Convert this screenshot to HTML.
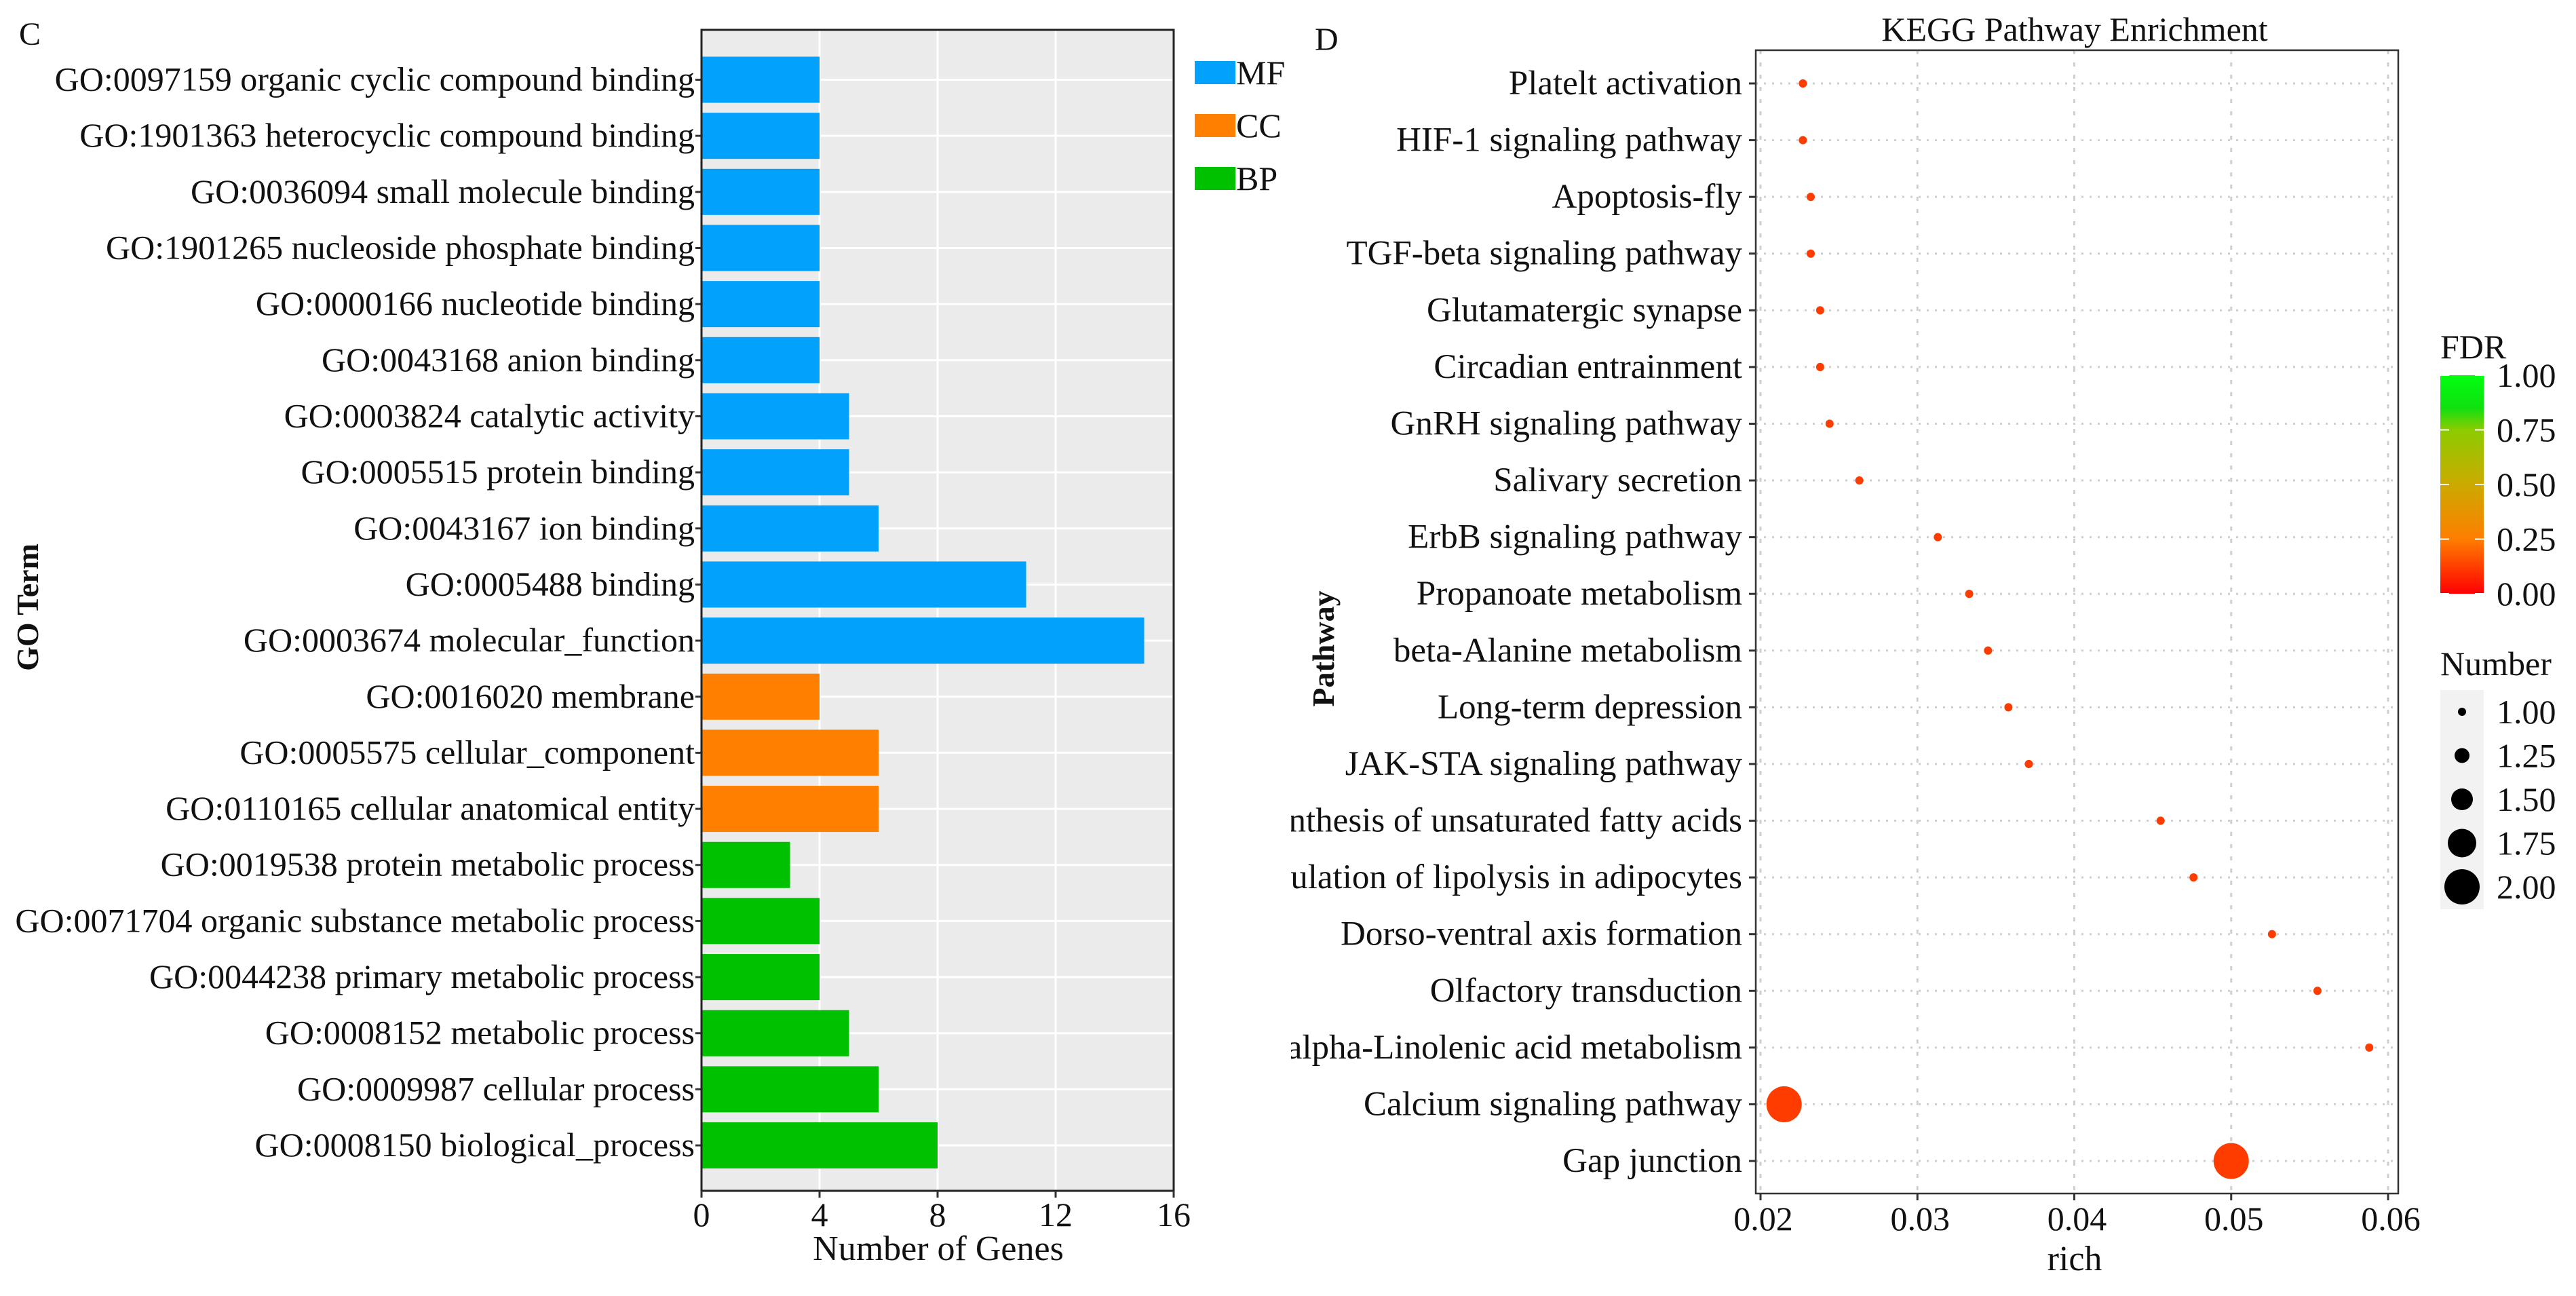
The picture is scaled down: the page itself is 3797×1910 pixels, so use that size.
<!DOCTYPE html>
<html><head><meta charset="utf-8"><style>
html,body{margin:0;padding:0;background:#fff;}
svg{display:block;font-family:"Liberation Serif",serif;}
</style></head><body>
<svg id="fig" width="3797" height="1910" viewBox="0 0 3797 1910" xmlns="http://www.w3.org/2000/svg">
<defs>
<linearGradient id="fdrgrad" x1="0" y1="1" x2="0" y2="0">
<stop offset="0" stop-color="#ff0000"/>
<stop offset="0.25" stop-color="#ff7e00"/>
<stop offset="0.5" stop-color="#ccaa00"/>
<stop offset="0.75" stop-color="#8ccc00"/>
<stop offset="0.85" stop-color="#10e010"/>
<stop offset="1" stop-color="#00ff10"/>
</linearGradient>
<clipPath id="clipL"><rect x="0" y="0" width="1900" height="1910"/></clipPath>
<clipPath id="clipR"><rect x="1903" y="0" width="1894" height="1910"/></clipPath>
</defs>
<g id="left" clip-path="url(#clipL)"></g>
<g id="right" clip-path="url(#clipR)"></g>
</svg>
<script>
// ---------- GO bar chart data ----------
const goTerms = ["GO:0097159 organic cyclic compound binding","GO:1901363 heterocyclic compound binding","GO:0036094 small molecule binding","GO:1901265 nucleoside phosphate binding","GO:0000166 nucleotide binding","GO:0043168 anion binding","GO:0003824 catalytic activity","GO:0005515 protein binding","GO:0043167 ion binding","GO:0005488 binding","GO:0003674 molecular_function","GO:0016020 membrane","GO:0005575 cellular_component","GO:0110165 cellular anatomical entity","GO:0019538 protein metabolic process","GO:0071704 organic substance metabolic process","GO:0044238 primary metabolic process","GO:0008152 metabolic process","GO:0009987 cellular process","GO:0008150 biological_process"];
const goCounts = [4,4,4,4,4,4,5,5,6,11,15,4,6,6,3,4,4,5,6,8];
const goCats = ["MF","MF","MF","MF","MF","MF","MF","MF","MF","MF","MF","CC","CC","CC","BP","BP","BP","BP","BP","BP"];
const goXTicks = [0,4,8,12,16];
const catNames = ["MF","CC","BP"];
const catColors = {MF:"#02a2fc",CC:"#ff8000",BP:"#00c100"};

// ---------- KEGG dot chart data ----------
const pathways = ["Platelt activation","HIF-1 signaling pathway","Apoptosis-fly","TGF-beta signaling pathway","Glutamatergic synapse","Circadian entrainment","GnRH signaling pathway","Salivary secretion","ErbB signaling pathway","Propanoate metabolism","beta-Alanine metabolism","Long-term depression","JAK-STA signaling pathway","Biosynthesis of unsaturated fatty acids","Regulation of lipolysis in adipocytes","Dorso-ventral axis formation","Olfactory transduction","alpha-Linolenic acid metabolism","Calcium signaling pathway","Gap junction"];
const richVals = [0.0227,0.0227,0.0232,0.0232,0.0238,0.0238,0.0244,0.0263,0.0313,0.0333,0.0345,0.0358,0.0371,0.0455,0.0476,0.0526,0.0555,0.0588,0.0215,0.0500];
const geneNumbers = [1,1,1,1,1,1,1,1,1,1,1,1,1,1,1,1,1,1,2,2];
const fdrVals = [0.12,0.12,0.12,0.12,0.12,0.12,0.12,0.12,0.12,0.12,0.12,0.12,0.12,0.12,0.12,0.12,0.12,0.12,0.12,0.12];
const richTicks = [0.02,0.03,0.04,0.05,0.06];
const richTickLabels = ["0.02","0.03","0.04","0.05","0.06"];
const fdrTicks = [1.00,0.75,0.50,0.25,0.00];
const numTicks = [1.00,1.25,1.50,1.75,2.00];

const NS="http://www.w3.org/2000/svg";
function mk(parent,tag,attrs,text){const e=document.createElementNS(NS,tag);for(const k in attrs)e.setAttribute(k,attrs[k]);if(text!==undefined)e.textContent=text;parent.appendChild(e);return e;}
const FS=50;

// ===== Left panel =====
(function(){
const g=document.getElementById('left');
const L=1034,R=1730,T=44,B=1755;
const xs=v=>L+(v-0)/(16-0)*(R-L);
const y0=117.5,dy=82.66;
const ys=i=>y0+i*dy;
const bg=mk(g,'rect',{x:L,y:T,width:R-L,height:B-T,fill:'#ebebeb'});


goXTicks.forEach(t=>{if(t>0&&t<16){const l=mk(g,'line',{x1:xs(t),x2:xs(t),y1:T,y2:B,stroke:'#fff','stroke-width':3});

}});
goTerms.forEach((term,i)=>{
 const gl=mk(g,'line',{x1:L,x2:R,y1:ys(i),y2:ys(i),stroke:'#fff','stroke-width':3});
 
 
 const bh=68;
 const r=mk(g,'rect',{x:L,y:ys(i)-bh/2,width:xs(goCounts[i])-L,height:bh,fill:catColors[goCats[i]]});
 
 
 const tk=mk(g,'line',{x1:L-9,x2:L,y1:ys(i),y2:ys(i),stroke:'#333','stroke-width':3});
 
 
 const t=mk(g,'text',{x:L-10,y:ys(i)+16,'text-anchor':'end','font-size':FS,fill:'#111'},term);
 
 
});
const fr=mk(g,'rect',{x:L,y:T,width:R-L,height:B-T,fill:'none',stroke:'#222','stroke-width':3});


goXTicks.forEach(t=>{
 const tk=mk(g,'line',{x1:xs(t),x2:xs(t),y1:B,y2:B+10,stroke:'#333','stroke-width':3});
 
 
 const tl=mk(g,'text',{x:xs(t),y:B+52,'text-anchor':'middle','font-size':FS,fill:'#111'},String(t));
 
 
});
const xt=mk(g,'text',{x:1383,y:1857,'text-anchor':'middle','font-size':52,fill:'#111'},'Number of Genes');


const yt=mk(g,'text',{x:0,y:0,transform:'translate(56,895) rotate(-90)','text-anchor':'middle','font-size':46,'font-weight':'bold',fill:'#111'},'GO Term');


const pl=mk(g,'text',{x:28,y:66,'font-size':48,fill:'#111'},'C');


catNames.forEach((c,k)=>{
 const y=90+k*78;
 const sw=mk(g,'rect',{x:1761,y:y,width:60,height:34,fill:catColors[c]});
 
 
 const lt=mk(g,'text',{x:1822,y:y+34,'font-size':FS,fill:'#111'},c);
 
 
});
})();

// ===== Right panel =====
(function(){
const g=document.getElementById('right');
const L=2588,R=3535,T=74,B=1759;
const xs=v=>2595+(v-0.02)/0.01*231.25;
const y0=123,dy=83.58;
const ys=i=>y0+i*dy;
const rs=n=>6+(n-1)*20;
function fdrColor(f){
 const stops=[[0,[255,0,0]],[0.25,[255,126,0]],[0.5,[204,170,0]],[0.75,[140,204,0]],[1,[0,255,16]]];
 for(let k=0;k<stops.length-1;k++){const a=stops[k],b=stops[k+1];if(f<=b[0]){const t=(f-a[0])/(b[0]-a[0]);const c=a[1].map((v,j)=>Math.round(v+(b[1][j]-v)*t));return 'rgb('+c.join(',')+')';}}
 return 'rgb(0,255,16)';
}
richTicks.forEach(t=>{
 const l=mk(g,'line',{x1:xs(t),x2:xs(t),y1:T,y2:B,stroke:'#cfcfcf','stroke-width':3,'stroke-dasharray':'6,12'});
 
 
});
pathways.forEach((p,i)=>{
 const l=mk(g,'line',{x1:L,x2:R,y1:ys(i),y2:ys(i),stroke:'#cfcfcf','stroke-width':3,'stroke-dasharray':'3,9'});
 
 
});
const fr=mk(g,'rect',{x:L,y:T,width:R-L,height:B-T,fill:'none',stroke:'#333','stroke-width':2.5});


pathways.forEach((p,i)=>{
 const c=mk(g,'ellipse',{cx:xs(richVals[i]),cy:ys(i),rx:rs(geneNumbers[i]),ry:rs(geneNumbers[i])*1.02,fill:fdrColor(fdrVals[i])});
 
 
 const tk=mk(g,'line',{x1:L-10,x2:L,y1:ys(i),y2:ys(i),stroke:'#333','stroke-width':3});
 
 
 const t=mk(g,'text',{x:L-20,y:ys(i)+16,'text-anchor':'end','font-size':FS+1,fill:'#111'},p);
 
 
});
richTicks.forEach((t,k)=>{
 const tk=mk(g,'line',{x1:xs(t),x2:xs(t),y1:B,y2:B+10,stroke:'#333','stroke-width':3});
 
 
 const tl=mk(g,'text',{x:xs(t)+4,y:B+54,'text-anchor':'middle','font-size':FS,fill:'#111'},richTickLabels[k]);
 
 
});
const xt=mk(g,'text',{x:3058,y:1872,'text-anchor':'middle','font-size':52,fill:'#111'},'rich');


const yt=mk(g,'text',{x:0,y:0,transform:'translate(1966,956) rotate(-90)','text-anchor':'middle','font-size':46,'font-weight':'bold',fill:'#111'},'Pathway');


const ti=mk(g,'text',{x:3058,y:60,'text-anchor':'middle','font-size':50,fill:'#111'},'KEGG Pathway Enrichment');


const pl=mk(g,'text',{x:1938,y:74,'font-size':48,fill:'#111'},'D');


// FDR legend
const ft=mk(g,'text',{x:3597,y:528,'font-size':FS,fill:'#111'},'FDR');


const cb=mk(g,'rect',{x:3597,y:553,width:64,height:322,fill:'url(#fdrgrad)'});


fdrTicks.forEach(f=>{
 const y=875-f*322;
 const a=mk(g,'line',{x1:3597,x2:3610,y1:y,y2:y,stroke:'#fff','stroke-width':2});
 
 
 const b=mk(g,'line',{x1:3648,x2:3661,y1:y,y2:y,stroke:'#fff','stroke-width':2});
 
 
 const t=mk(g,'text',{x:3680,y:y+17,'font-size':FS,fill:'#111'},f.toFixed(2));
 
 
});
// Number legend
const nt=mk(g,'text',{x:3597,y:995,'font-size':FS,fill:'#111'},'Number');


const kb=mk(g,'rect',{x:3597,y:1017,width:64,height:323,fill:'#f2f2f2'});


numTicks.forEach((n,k)=>{
 const y=1049+k*64.5;
 const c=mk(g,'circle',{cx:3629,cy:y,r:rs(n),fill:'#000'});
 
 
 const t=mk(g,'text',{x:3680,y:y+17,'font-size':FS,fill:'#111'},n.toFixed(2));
 
 
});
})();
</script>
</body></html>
